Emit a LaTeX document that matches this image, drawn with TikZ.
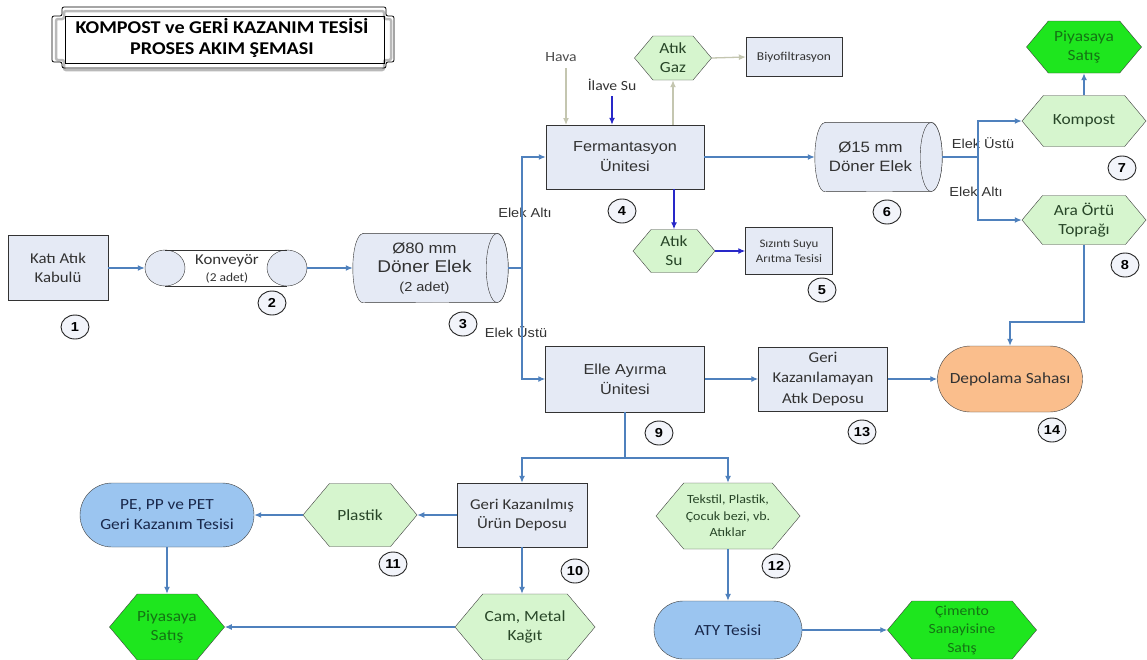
\documentclass[tikz,border=0pt]{standalone}
\usepackage{fontspec}
\setmainfont{Carlito}[FakeStretch=1.12]
\newfontfamily\arialfont{Liberation Sans}[FakeStretch=1.12]
\usepackage{tikz}
\usetikzlibrary{shapes.geometric, shapes.symbols, shapes.misc, arrows.meta}

\definecolor{boxfill}{RGB}{229,234,245}
\definecolor{hexfill}{RGB}{214,245,206}
\definecolor{salefill}{RGB}{30,230,30}
\definecolor{plantfill}{RGB}{155,197,240}
\definecolor{landfill}{RGB}{250,190,140}
\definecolor{flowblue}{RGB}{79,129,189}
\definecolor{waterblue}{RGB}{40,40,200}
\definecolor{airgrey}{RGB}{196,198,176}
\definecolor{hextext}{RGB}{40,70,40}
\definecolor{saletext}{RGB}{20,115,20}
\definecolor{navytext}{RGB}{25,40,75}
\definecolor{boxtext}{RGB}{50,50,50}

\begin{document}
\begin{tikzpicture}[x=1pt, y=-1pt,
            box/.style={draw=black!80, fill=boxfill, text=boxtext, align=center, inner sep=0pt, font=\fontsize{15}{19}\selectfont},
            hexa/.style={signal, signal to=east and west, signal pointer angle=100, draw=black!75, fill=hexfill, text=hextext, align=center, inner sep=0pt, font=\fontsize{15.5}{19}\selectfont},
            sale/.style={hexa, fill=salefill, text=saletext},
            plant/.style={rounded rectangle, draw=black!75, fill=plantfill, text=navytext, align=center, inner sep=0pt, font=\fontsize{15.5}{20}\selectfont},
            drumbox/.style={rectangle, minimum height=69pt, inner sep=0pt},
            drum/.style={draw=black!80, fill=boxfill},
            drumtext/.style={align=center, inner sep=0pt, text=boxtext, font=\arialfont\fontsize{15}{19}\selectfont},
            numc/.style={ellipse, draw=black!85, line width=0.9pt, fill=boxfill!50, minimum width=28pt, minimum height=24pt, inner sep=0pt, font=\arialfont\bfseries\fontsize{13}{13}\selectfont},
            flow/.style={draw=flowblue, line width=1.3pt, -{Latex[length=7pt,width=6pt]}},
            line/.style={draw=flowblue, line width=1.3pt},
            water/.style={flow, draw=waterblue},
            air/.style={flow, draw=airgrey},
            tag/.style={font=\arialfont\fontsize{13}{15}\selectfont, text=black!80}]
            \useasboundingbox (0,0) rectangle (1147,659);
            \clip (0,0) rectangle (1147,659);
            \fill[white] (0,0) rectangle (1147,659);

            \draw[gray!55, line width=2.5pt, rounded corners=2pt] (64,11) -- (384,11) -- (384,19) -- (391,19) -- (391,60) -- (384,60) -- (384,70) -- (64,70) -- (64,60) -- (56,60) -- (56,19) -- (64,19) -- cycle;
            \draw[black, line width=0.8pt, rounded corners=2pt] (62,7) -- (386,7) -- (386,16) -- (394,16) -- (394,62) -- (386,62) -- (386,68) -- (62,68) -- (62,62) -- (52,62) -- (52,16) -- (62,16) -- cycle;
            \draw[black, line width=0.6pt] (65,16) rectangle (384,63);
            \node[font=\bfseries\fontsize{18}{21}\selectfont, align=center] (title) at (222,38) {KOMPOST ve GERİ KAZANIM TESİSİ\\PROSES AKIM ŞEMASI};

            \node[box, minimum width=100pt, minimum height=65pt] (kabul) at (58,268) {Katı Atık\\Kabulü};
            \node[numc] (n1) at (75,327) {1};

            \node[ellipse, draw=black!80, fill=boxfill, minimum width=40pt, minimum height=36pt] (konvL) at (165,268) {};
            \node[ellipse, draw=black!80, fill=boxfill, minimum width=40pt, minimum height=36pt] (konvR) at (287,268) {};
            \draw[black!80] (konvL.north) -- (konvR.north) (konvL.south) -- (konvR.south);
            \node[align=center, text=boxtext, font=\fontsize{15}{17}\selectfont] (konv) at (227,269) {Konveyör\\{\fontsize{12}{13}\selectfont (2 adet)}};
            \node[numc] (n2) at (272,303) {2};

            \node[drumbox, minimum width=155pt] (elek1) at (430.5,268) {};
            \draw[drum] ([xshift=10pt]elek1.north west) -- ([xshift=-11pt]elek1.north east) arc[start angle=90, end angle=-90, x radius=11pt, y radius=34.5pt] -- ([xshift=10pt]elek1.south west) arc[start angle=270, end angle=90, x radius=10pt, y radius=34.5pt] -- cycle;
            \draw[drum] ([xshift=-11pt]elek1.east) ellipse[x radius=11pt, y radius=34.5pt];
            \node[drumtext] (elek1txt) at ([xshift=-6pt]elek1.center) {{\fontsize{15}{18}\selectfont Ø80 mm}\\{\fontsize{17}{20}\selectfont Döner Elek}\\{\fontsize{13}{16}\selectfont (2 adet)}};
            \node[numc] (n3) at (463,324) {3};

            \node[box, font=\arialfont\fontsize{14.5}{20}\selectfont, minimum width=158pt, minimum height=64pt] (ferm) at (625,157) {Fermantasyon\\Ünitesi};
            \node[numc] (n4) at (622,211) {4};
            \node[text=black!70, font=\fontsize{14}{16}\selectfont] (hava) at (561,57) {Hava};
            \node[text=black!80, font=\fontsize{14}{16}\selectfont] (ilave) at (612,85) {İlave Su};
            \coordinate (havain) at (566,125);

            \node[hexa, minimum width=77pt, minimum height=44pt] (gaz) at (673,58) {Atık\\Gaz};
            \node[box, font=\fontsize{12}{14}\selectfont, minimum width=96pt, minimum height=39pt] (biyo) at (794,57) {Biyofiltrasyon};
            \node[hexa, minimum width=82pt, minimum height=43pt] (su) at (674,251) {Atık\\Su};
            \node[box, font=\fontsize{11.5}{15}\selectfont, minimum width=87pt, minimum height=47pt] (sizinti) at (789,251) {Sızıntı Suyu\\Arıtma Tesisi};
            \node[numc] (n5) at (822,290) {5};

            \node[drumbox, minimum width=127pt] (elek2) at (878.5,157) {};
            \draw[drum] ([xshift=10pt]elek2.north west) -- ([xshift=-11pt]elek2.north east) arc[start angle=90, end angle=-90, x radius=11pt, y radius=34.5pt] -- ([xshift=10pt]elek2.south west) arc[start angle=270, end angle=90, x radius=10pt, y radius=34.5pt] -- cycle;
            \draw[drum] ([xshift=-11pt]elek2.east) ellipse[x radius=11pt, y radius=34.5pt];
            \node[drumtext] (elek2txt) at ([xshift=-8pt]elek2.center) {Ø15 mm\\Döner Elek};
            \node[numc] (n6) at (887,212) {6};
            \node[hexa, minimum width=124pt, minimum height=51pt] (kompost) at (1084,121) {Kompost};
            \node[sale, minimum width=115pt, minimum height=52pt] (piy1) at (1084,47) {Piyasaya\\Satış};
            \node[numc] (n7) at (1122,168) {7};
            \node[hexa, minimum width=124pt, minimum height=49pt] (ortu) at (1084,220) {Ara Örtü\\Toprağı};
            \node[numc] (n8) at (1125,265) {8};

            \node[box, font=\arialfont\fontsize{14.5}{20}\selectfont, minimum width=159pt, minimum height=66pt] (elle) at (625,379) {Elle Ayırma\\Ünitesi};
            \node[numc] (n9) at (659,433) {9};
            \node[box, font=\fontsize{15}{20.5}\selectfont, minimum width=129pt, minimum height=64pt] (gka) at (823,379) {Geri\\Kazanılamayan\\Atık Deposu};
            \node[numc] (n13) at (862,432) {13};
            \node[plant, fill=landfill, text=boxtext, minimum width=145pt, minimum height=66pt] (depo) at (1010,379) {Depolama Sahası};
            \node[numc] (n14) at (1052,430) {14};

            \node[box, minimum width=130pt, minimum height=64pt] (gkm) at (522,515) {Geri Kazanılmış\\Ürün Deposu};
            \node[numc] (n10) at (575,571) {10};
            \node[hexa, minimum width=114pt, minimum height=63pt] (plastik) at (360,515) {Plastik};
            \node[numc] (n11) at (393,564) {11};
            \node[plant, minimum width=174pt, minimum height=64pt] (pe) at (167,515) {PE, PP ve PET\\Geri Kazanım Tesisi};
            \node[sale, minimum width=115pt, minimum height=66pt] (piy2) at (167,627) {Piyasaya\\Satış};
            \node[hexa, minimum width=140pt, minimum height=66pt] (cam) at (525,627) {Cam, Metal\\Kağıt};
            \node[hexa, font=\fontsize{12.5}{16.5}\selectfont, minimum width=144pt, minimum height=66pt] (tekstil) at (728,516) {Tekstil, Plastik,\\Çocuk bezi, vb.\\Atıklar};
            \node[numc] (n12) at (776,566) {12};
            \node[plant, minimum width=148pt, minimum height=58pt] (aty) at (728,630) {ATY Tesisi};
            \node[sale, font=\fontsize{14}{18.5}\selectfont, minimum width=149pt, minimum height=58pt] (cimento) at (962,630) {Çimento\\Sanayisine\\Satış};

            \node[tag] (alti1) at (525,213) {Elek Altı};
            \node[tag] (ustu1) at (516,332) {Elek Üstü};
            \node[tag] (ustu2) at (983,143) {Elek Üstü};
            \node[tag] (alti2) at (976,192) {Elek Altı};

            \coordinate (split1) at (522,268);
            \coordinate (split2) at (978,157);
            \coordinate (split3) at (625,458);
            \coordinate (bend) at (1084,322);

            \draw[flow] (kabul.east) -- (konvL.west);
            \draw[flow] (konvR.east) -- (elek1.west);
            \draw[line] (elek1.east) -- (split1);
            \draw[flow] (split1) |- (ferm.west);
            \draw[flow] (split1) |- (elle.west);
            \draw[air, shorten <=3pt] (havain |- hava.south) -- (havain);
            \draw[water, shorten <=2pt] (ilave.south) -- (ilave.south |- ferm.north);
            \draw[air] (gaz.south |- ferm.north) -- (gaz.south);
            \draw[air] (gaz.east) -- (biyo.west);
            \draw[water] (ferm.south -| su.north) -- (su.north);
            \draw[water] (su.east) -- (sizinti.west);
            \draw[flow] (ferm.east) -- (elek2.west);
            \draw[line] (elek2.east) -- (split2);
            \draw[flow] (split2) |- (kompost.west);
            \draw[flow] (split2) |- (ortu.west);
            \draw[flow] (kompost.north) -- (piy1.south);
            \draw[flow] (ortu.south) -- (bend) -| (depo.north);
            \draw[flow] (elle.east) -- (gka.west);
            \draw[flow] (gka.east) -- (depo.west);
            \draw[line] (elle.south) -- (split3);
            \draw[flow] (split3) -| (gkm.north);
            \draw[flow] (split3) -| (tekstil.north);
            \draw[flow] (gkm.west) -- (plastik.east);
            \draw[flow] (plastik.west) -- (pe.east);
            \draw[flow] (pe.south) -- (piy2.north);
            \draw[flow] (gkm.south) -- (gkm.south |- cam.north);
            \draw[flow] (cam.west) -- (piy2.east);
            \draw[flow] (tekstil.south) -- (aty.north);
            \draw[flow] (aty.east) -- (cimento.west);
        \end{tikzpicture}
\end{document}
